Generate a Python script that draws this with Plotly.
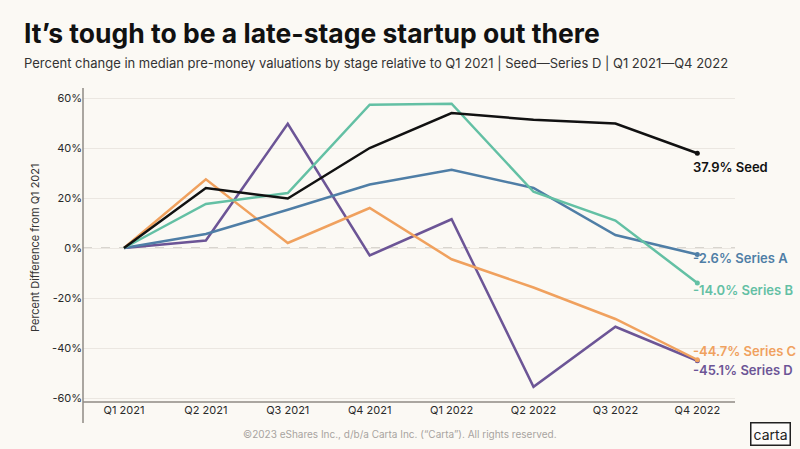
import plotly.graph_objects as go

quarters = ["Q1 2021", "Q2 2021", "Q3 2021", "Q4 2021",
            "Q1 2022", "Q2 2022", "Q3 2022", "Q4 2022"]

seed = [0, 24.0, 19.8, 40.0, 54.0, 51.3, 49.8, 37.9]
series_a = [0, 5.6, 15.3, 25.4, 31.3, 24.0, 5.2, -2.6]
series_b = [0, 17.6, 22.0, 57.3, 57.7, 22.5, 11.0, -14.0]
series_c = [0, 27.5, 2.0, 16.0, -4.5, -15.8, -28.4, -44.7]
series_d = [0, 3.0, 49.7, -3.0, 11.5, -55.5, -31.5, -45.1]

names = ["Seed", "Series A", "Series B", "Series C", "Series D"]
colors = ["#111111", "#4f7ea6", "#63c0a4", "#f0a15e", "#6c5596"]
all_series = [seed, series_a, series_b, series_c, series_d]

y_ticks = [-60, -40, -20, 0, 20, 40, 60]

# where the end labels sit (pixel y of the label centre)
label_y = [167, 258, 290, 351, 370]

BG = "#fbf9f4"
W, H = 800, 449
L, R, T, B = 83, 65, 88, 47
plot_w = W - L - R
plot_h = H - T - B


def px_x(x):
    return (x - L) / plot_w


def px_y(y):
    return 1 - (y - T) / plot_h


fig = go.Figure()

x_idx = list(range(len(quarters)))

# draw order: back to front
for i in [4, 3, 1, 2, 0]:
    fig.add_trace(go.Scatter(
        x=x_idx, y=all_series[i], mode="lines",
        line=dict(color=colors[i], width=2.5),
        name=names[i], showlegend=False, hoverinfo="skip",
    ))
    fig.add_trace(go.Scatter(
        x=[x_idx[-1]], y=[all_series[i][-1]], mode="markers",
        marker=dict(color=colors[i], size=5),
        showlegend=False, hoverinfo="skip",
    ))

# zero line
fig.add_shape(type="line", xref="paper", yref="y", x0=0, x1=1, y0=0, y1=0,
              line=dict(color="#b5b0aa", width=1, dash="dash"), layer="below")

# y axis line runs a bit below the x axis
fig.add_shape(type="line", xref="paper", yref="paper", x0=0, x1=0,
              y0=1, y1=px_y(423), line=dict(color="#8f8a85", width=1.5))
fig.add_shape(type="line", xref="paper", yref="paper", x0=0, x1=1,
              y0=0, y1=0, line=dict(color="#8f8a85", width=1.5))

for i in range(len(names)):
    val = all_series[i][-1]
    fig.add_annotation(
        x=x_idx[-1], xref="x", xanchor="left", xshift=-6,
        y=px_y(label_y[i]), yref="paper", yanchor="middle",
        text="%.1f%% %s" % (val, names[i]),
        showarrow=False,
        font=dict(family="Inter", size=13, color=colors[i], weight=600),
    )

fig.add_annotation(
    x=px_x(22), xref="paper", xanchor="left",
    y=px_y(33), yref="paper", yanchor="middle",
    text="It’s tough to be a late-stage startup out there",
    showarrow=False,
    font=dict(family="Inter", size=26.5, color="#111111", weight=700),
)

fig.add_annotation(
    x=px_x(22), xref="paper", xanchor="left",
    y=px_y(63), yref="paper", yanchor="middle",
    text="Percent change in median pre-money valuations by stage relative to Q1 2021 | Seed—Series D | Q1 2021—Q4 2022",
    showarrow=False,
    font=dict(family="Inter", size=13, color="#333333"),
)

fig.add_annotation(
    x=px_x(35), xref="paper", xanchor="center",
    y=px_y(248), yref="paper", yanchor="middle", textangle=-90,
    text="Percent Difference from Q1 2021", showarrow=False,
    font=dict(family="Inter", size=11, color="#333333"),
)

fig.add_annotation(
    x=px_x(400), xref="paper", xanchor="center",
    y=px_y(434), yref="paper", yanchor="middle",
    text="©2023 eShares Inc., d/b/a Carta Inc. (“Carta”). All rights reserved.",
    showarrow=False,
    font=dict(family="Inter", size=10, color="#a8a4a0"),
)

fig.add_annotation(
    x=px_x(770.5), xref="paper", xanchor="center",
    y=px_y(433.5), yref="paper", yanchor="middle",
    text="carta", showarrow=False,
    font=dict(family="Inter", size=14, color="#222222"),
    bordercolor="#222222", borderwidth=1.5, borderpad=2, bgcolor="#fdfcfa",
)

fig.update_layout(
    width=W, height=H,
    margin=dict(l=L, r=R, t=T, b=B, pad=0),
    paper_bgcolor=BG, plot_bgcolor=BG,
    font=dict(family="Inter", color="#2a2a2a"),
    xaxis=dict(
        tickmode="array", tickvals=x_idx, ticktext=quarters,
        range=[-0.5, 7.46], showgrid=False, zeroline=False, showline=False,
        ticks="", automargin=False,
        tickfont=dict(size=11, color="#2a2a2a"),
    ),
    yaxis=dict(
        range=[-61.6, 64], tickmode="array", tickvals=y_ticks,
        ticktext=["%d%%" % v for v in y_ticks],
        showgrid=True, gridcolor="#ebe7e1", gridwidth=1,
        zeroline=False, showline=False, ticks="", automargin=False,
        tickfont=dict(size=11, color="#2a2a2a"),
    ),
)

# the page body has a default margin; drop it so the chart sits at 0,0
fig.write_html(
    "out.html",
    config={"displayModeBar": False},
    post_script="document.body.style.margin='0';"
                "document.body.style.overflow='hidden';"
                "document.body.style.background='%s';" % BG,
)
